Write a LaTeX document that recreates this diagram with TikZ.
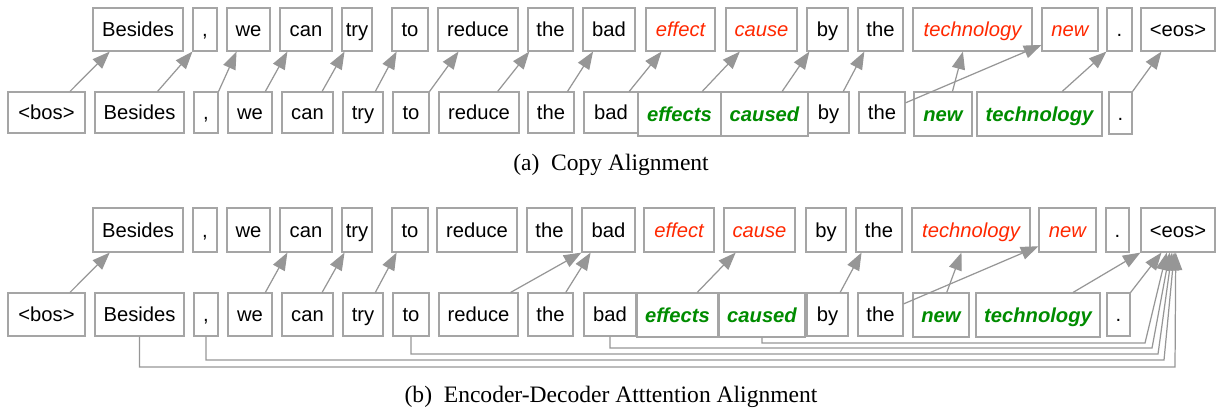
\documentclass[tikz,border=0pt]{standalone}
\usepackage{fontspec}
\setmainfont{Liberation Serif}
\setsansfont{Liberation Sans}
\usetikzlibrary{arrows.meta,calc}

\definecolor{boxgray}{RGB}{165,165,165}
\definecolor{arrgray}{RGB}{150,150,150}
\definecolor{copyred}{RGB}{255,40,0}
\definecolor{editgreen}{RGB}{0,140,0}

% word box: name, style, left, right, top, bottom (pixels), text
\newcommand{\wordbox}[7]{%
  \pgfmathsetmacro{\wbw}{(#4-#3)*0.02}%
  \pgfmathsetmacro{\wbh}{(#6-#5)*0.02}%
  \node[#2, minimum width=\wbw cm, minimum height=\wbh cm] (#1) at ({(#3+#4)/2},{(#5+#6)/2}) {#7};%
}
% alignment arrow: from top edge of #1 (fraction #2) to bottom edge of #3 (fraction #4)
\newcommand{\alink}[4]{%
  \draw[align] ($(#1.north west)!#2!(#1.north east)$) -- ($(#3.south west)!#4!(#3.south east)$);%
}

\begin{document}
\begin{tikzpicture}[x=0.02cm,y=-0.02cm,
    word/.style={draw=boxgray, line width=0.65pt, fill=white, inner sep=0pt,
      text height=8.2pt, text depth=0pt,
      font=\sffamily\fontsize{11.5}{13}\selectfont},
    copyword/.style={word, text=copyred, font=\sffamily\itshape\fontsize{11.5}{13}\selectfont},
    editword/.style={word, text=editgreen, font=\sffamily\bfseries\itshape\fontsize{11.5}{13}\selectfont},
    align/.style={draw=arrgray, line width=0.7pt, -{Triangle[length=10pt,width=7.5pt]}},
    caption/.style={font=\fontsize{13.4}{16}\selectfont}]
  \useasboundingbox (0,0) rectangle (1219,416);

  % ---------------- (a) copy alignment ----------------
  % Marking output words
  \wordbox{aout1}{word}{93}{183}{8}{51}{Besides}
  \wordbox{aout2}{word}{193}{217}{8}{51}{,}
  \wordbox{aout3}{word}{227}{270}{8}{51}{we}
  \wordbox{aout4}{word}{280}{332}{8}{51}{can}
  \wordbox{aout5}{word}{342}{372}{8}{51}{try}
  \wordbox{aout6}{word}{392}{428}{8}{51}{to}
  \wordbox{aout7}{word}{438}{518}{8}{51}{reduce}
  \wordbox{aout8}{word}{528}{573}{8}{51}{the}
  \wordbox{aout9}{word}{583}{635}{8}{51}{bad}
  \wordbox{aout10}{copyword}{646}{715}{8}{51}{effect}
  \wordbox{aout11}{copyword}{726}{797}{8}{51}{cause}
  \wordbox{aout12}{word}{807}{848}{8}{51}{by}
  \wordbox{aout13}{word}{858}{903}{8}{51}{the}
  \wordbox{aout14}{copyword}{913}{1032}{8}{51}{technology}
  \wordbox{aout15}{copyword}{1042}{1098}{8}{51}{new}
  \wordbox{aout16}{word}{1107}{1132}{8}{51}{.}
  \wordbox{aout17}{word}{1141}{1215}{8}{51}{<eos>}

  % Marking input words
  \wordbox{ain0}{word}{8}{85}{92}{133}{<bos>}
  \wordbox{ain1}{word}{95}{184}{92}{133}{Besides}
  \wordbox{ain2}{word}{194}{218}{92}{133}{,}
  \wordbox{ain3}{word}{228}{272}{92}{133}{we}
  \wordbox{ain4}{word}{282}{333}{92}{133}{can}
  \wordbox{ain5}{word}{343}{383}{92}{133}{try}
  \wordbox{ain6}{word}{393}{429}{92}{133}{to}
  \wordbox{ain7}{word}{439}{519}{92}{133}{reduce}
  \wordbox{ain8}{word}{528}{574}{92}{133}{the}
  \wordbox{ain9}{word}{584}{638}{92}{133}{bad}
  \wordbox{ain10}{editword}{638}{721}{92}{136}{effects}
  \wordbox{ain11}{editword}{721}{808}{92}{136}{caused}
  \wordbox{ain12}{word}{808}{849}{92}{133}{by}
  \wordbox{ain13}{word}{859}{905}{92}{133}{the}
  \wordbox{ain14}{editword}{914}{972}{92}{136}{new}
  \wordbox{ain15}{editword}{977}{1102}{92}{136}{technology}
  \wordbox{ain16}{word}{1109}{1132}{92}{134}{.}

  % Drawing copy links
  \alink{ain0}{0.80}{aout1}{0.19}
  \alink{ain1}{0.70}{aout2}{0.0}
  \alink{ain2}{1.0}{aout3}{0.23}
  \alink{ain3}{0.84}{aout4}{0.15}
  \alink{ain4}{0.78}{aout5}{0.10}
  \alink{ain5}{0.80}{aout6}{0.14}
  \alink{ain6}{1.0}{aout7}{0.26}
  \alink{ain7}{0.73}{aout8}{0.04}
  \alink{ain8}{0.85}{aout9}{0.20}
  \alink{ain9}{0.83}{aout10}{0.23}
  \alink{ain10}{0.77}{aout11}{0.20}
  \alink{ain11}{0.70}{aout12}{0.07}
  \alink{ain12}{0.85}{aout13}{0.15}
  \draw[align] ($(ain13.north east)!0.27!(ain13.south east)$) -- ($(aout15.north west)!0.85!(aout15.south west)$);
  \alink{ain14}{0.66}{aout14}{0.42}
  \alink{ain15}{0.68}{aout16}{0.0}
  \alink{ain16}{1.0}{aout17}{0.28}

  \node[caption] (capa) at (611,165) {(a)\enspace Copy Alignment};

  % ---------------- (b) attention alignment ----------------
  % Marking output words
  \wordbox{bout1}{word}{93}{183}{208}{252}{Besides}
  \wordbox{bout2}{word}{193}{217}{208}{252}{,}
  \wordbox{bout3}{word}{227}{270}{208}{252}{we}
  \wordbox{bout4}{word}{280}{332}{208}{252}{can}
  \wordbox{bout5}{word}{342}{372}{208}{252}{try}
  \wordbox{bout6}{word}{392}{428}{208}{252}{to}
  \wordbox{bout7}{word}{437}{517}{208}{252}{reduce}
  \wordbox{bout8}{word}{527}{572}{208}{252}{the}
  \wordbox{bout9}{word}{582}{635}{208}{252}{bad}
  \wordbox{bout10}{copyword}{644}{714}{208}{252}{effect}
  \wordbox{bout11}{copyword}{724}{795}{208}{252}{cause}
  \wordbox{bout12}{word}{806}{846}{208}{252}{by}
  \wordbox{bout13}{word}{856}{902}{208}{252}{the}
  \wordbox{bout14}{copyword}{912}{1030}{208}{252}{technology}
  \wordbox{bout15}{copyword}{1039}{1096}{208}{252}{new}
  \wordbox{bout16}{word}{1106}{1129}{208}{252}{.}
  \wordbox{bout17}{word}{1141}{1215}{208}{252}{<eos>}

  % Marking input words
  \wordbox{bin0}{word}{8}{85}{293}{336}{<bos>}
  \wordbox{bin1}{word}{95}{184}{293}{336}{Besides}
  \wordbox{bin2}{word}{194}{218}{293}{336}{,}
  \wordbox{bin3}{word}{228}{272}{293}{336}{we}
  \wordbox{bin4}{word}{282}{333}{293}{336}{can}
  \wordbox{bin5}{word}{343}{383}{293}{336}{try}
  \wordbox{bin6}{word}{393}{429}{293}{336}{to}
  \wordbox{bin7}{word}{439}{518}{293}{336}{reduce}
  \wordbox{bin8}{word}{528}{573}{293}{336}{the}
  \wordbox{bin9}{word}{584}{636}{293}{336}{bad}
  \wordbox{bin10}{editword}{637}{718}{293}{337}{effects}
  \wordbox{bin11}{editword}{719}{805}{293}{337}{caused}
  \wordbox{bin12}{word}{807}{848}{293}{336}{by}
  \wordbox{bin13}{word}{858}{903}{293}{336}{the}
  \wordbox{bin14}{editword}{913}{969}{293}{337}{new}
  \wordbox{bin15}{editword}{976}{1100}{293}{337}{technology}
  \wordbox{bin16}{word}{1107}{1130}{293}{336}{.}

  % Drawing attention links
  \alink{bin0}{0.80}{bout1}{0.19}
  \alink{bin3}{0.84}{bout4}{0.15}
  \alink{bin4}{0.78}{bout5}{0.10}
  \alink{bin5}{0.80}{bout6}{0.14}
  \alink{bin7}{0.90}{bout9}{0.0}
  \alink{bin8}{0.83}{bout9}{0.17}
  \alink{bin10}{0.74}{bout11}{0.17}
  \alink{bin12}{0.80}{bout13}{0.13}
  \draw[align] ($(bin13.north east)!0.26!(bin13.south east)$) -- ($(bout15.north west)!0.86!(bout15.south west)$);
  \alink{bin14}{0.60}{bout14}{0.42}
  \alink{bin15}{0.78}{bout17}{0.0}
  \alink{bin16}{1.0}{bout17}{0.28}

  % Drawing links routed below to <eos>
  \draw[align] (bin11.south) -- (bin11.south |- 0,343) -- (1145,343) -- ($(bout17.south west)!0.35!(bout17.south east)$);
  \draw[align] (bin9.south) -- (bin9.south |- 0,348) -- (1152,348) -- ($(bout17.south west)!0.39!(bout17.south east)$);
  \draw[align] (bin6.south) -- (bin6.south |- 0,354) -- (1158,354) -- ($(bout17.south west)!0.42!(bout17.south east)$);
  \draw[align] (bin2.south) -- (bin2.south |- 0,360) -- (1164,360) -- ($(bout17.south west)!0.45!(bout17.south east)$);
  \draw[align] (bin1.south) -- (bin1.south |- 0,367) -- (1175,367) -- ($(bout17.south west)!0.47!(bout17.south east)$);

  \node[caption] (capb) at (611,397) {(b)\enspace Encoder-Decoder Atttention Alignment};
\end{tikzpicture}
\end{document}
